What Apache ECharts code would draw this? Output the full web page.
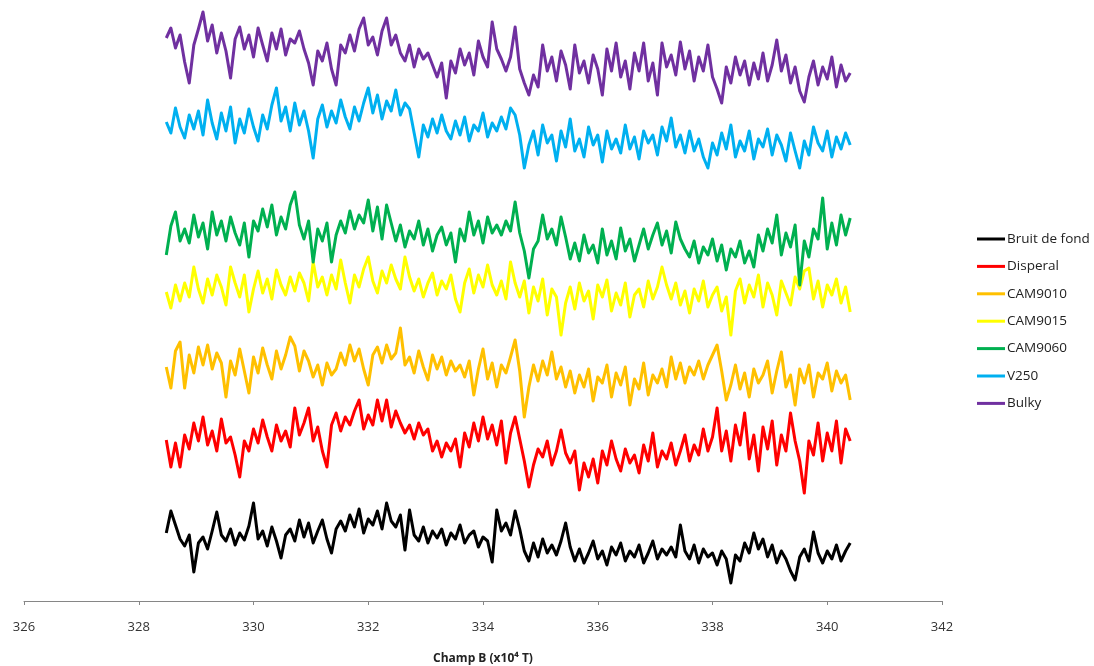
<!DOCTYPE html>
<html>
<head>
<meta charset="utf-8">
<script src="https://cdn.jsdelivr.net/npm/echarts@6/dist/echarts.min.js"></script>
<style>html,body{margin:0;padding:0;background:#fff;}#c{width:1094px;height:666px;}</style>
</head>
<body>
<div id="c"></div>
<script>
// Field sweep sampling grid (x10^4 T)
const X_START = 328.48;
const X_STEP = 0.08;
const X_TICKS = [326, 328, 330, 332, 334, 336, 338, 340, 342];
const SERIES_NAMES = ['Bruit de fond', 'Disperal', 'CAM9010', 'CAM9015', 'CAM9060', 'V250', 'Bulky'];

// Signal values (stacked offsets, arbitrary units)
const bruitDeFond = [68,90,76,62,55,66,29,58,64,52, 70,89,66,60,72,56,68,61,75,98, 62,70,55,74,60,43,66,72,60,81,
  64,78,58,70,81,62,48,72,80,70, 86,74,92,68,82,76,90,72,98,80, 74,86,51,91,66,60,74,58,70,63,
  72,56,68,62,76,58,66,70,54,64, 60,39,91,70,78,66,90,72,50,40, 58,44,62,48,56,46,60,78,54,40,
  52,38,48,60,42,50,36,54,46,58, 40,50,44,56,38,48,60,42,52,46, 54,44,76,50,42,56,38,52,44,48,
  36,50,42,18,46,40,58,48,68,52, 62,44,56,38,50,42,30,21,44,52, 40,69,48,38,50,42,56,40,50,58];
const disperal = [161,134,158,134,166,152,178,160,184,156, 170,150,182,158,164,146,124,160,150,172, 158,181,164,150,176,160,170,154,193,166,
  178,193,160,174,150,134,176,188,170,184, 176,190,201,172,186,176,201,180,201,174, 190,178,168,176,162,178,166,172,150,160,
  144,158,150,162,134,168,154,178,160,184, 162,176,156,180,138,168,184,162,140,114, 136,152,144,160,136,150,171,148,138,150,
  111,138,124,142,118,150,136,160,142,130, 152,138,146,128,156,140,168,134,150,142, 158,136,150,166,140,156,146,172,150,164,
  193,150,170,140,176,156,188,142,166,130, 174,152,180,136,166,150,188,160,140,108, 160,146,178,140,168,150,180,138,172,160];
const cam9010 = [234,213,250,259,213,246,228,254,236,256, 232,248,238,204,240,226,252,230,208,244, 228,253,236,222,250,232,246,264,255,230,
  250,240,224,236,216,238,226,232,248,236, 256,240,252,232,216,246,254,238,256,242, 248,273,236,244,228,250,234,221,246,232,
  244,226,240,230,236,224,240,206,232,252, 222,238,214,236,228,244,261,230,184,214, 236,220,240,226,249,222,234,214,230,208,
  226,214,232,200,224,218,236,204,228,216, 234,196,222,212,238,206,226,218,232,214, 244,222,238,218,234,226,240,222,236,246,
  256,230,201,216,236,212,228,204,232,218, 226,240,208,230,249,214,226,196,232,218, 236,204,228,222,238,210,230,218,226,201];
const cam9015 = [309,293,316,300,318,304,334,312,298,322, 306,326,314,296,334,318,304,326,289,312, 330,308,322,302,331,316,306,324,310,328,
  318,300,339,314,324,306,326,312,341,318, 298,326,314,332,344,320,308,330,318,336, 322,312,344,324,310,322,304,318,328,306,
  320,312,326,302,289,318,332,308,326,314, 336,316,306,320,302,339,318,304,320,288, 314,300,322,286,312,304,266,298,314,292,
  318,300,310,282,316,304,321,290,308,296, 318,284,306,312,294,320,302,314,334,316, 302,318,296,310,288,312,300,320,294,306,
  314,290,304,266,310,322,298,316,304,326, 294,318,306,286,320,308,296,324,312,330, 333,302,320,294,316,306,322,298,314,289];
const cam9060 = [346,375,389,360,372,358,386,364,378,352, 389,366,380,360,384,368,356,378,344,380, 370,392,374,396,366,384,372,396,409,376,
  362,380,339,372,360,378,339,366,380,368, 390,372,386,378,401,370,394,362,396,378, 360,376,354,370,362,380,356,372,350,366,
  374,356,368,339,372,360,389,366,380,358, 384,368,376,366,380,370,399,368,350,323, 352,360,386,362,372,356,384,364,342,358,
  340,366,348,356,338,372,346,360,342,373, 350,362,340,356,372,352,366,378,356,370, 348,379,362,352,344,360,338,354,346,362,
  340,356,331,352,344,360,338,350,334,366, 350,372,358,386,346,368,354,376,316,360, 344,372,362,403,352,378,356,386,366,383];
const v250 = [479,468,493,474,463,486,472,490,466,501, 478,462,488,470,494,458,482,468,492,474, 460,486,472,496,513,480,494,470,498,476,
  490,470,443,482,496,474,490,478,501,484, 472,494,480,498,513,488,506,482,500,490, 511,486,498,492,468,444,476,464,482,468,
  486,470,462,480,466,484,460,476,470,488, 464,478,470,484,472,493,486,466,433,456, 470,446,476,458,466,440,470,454,482,450,
  462,444,474,456,466,439,470,452,462,448, 476,452,464,442,470,458,466,446,474,460, 483,454,466,448,470,450,462,444,433,458,
  446,468,452,476,444,460,450,470,442,462, 454,472,446,466,456,440,468,450,433,460, 446,474,458,450,470,444,464,452,468,456];
const bulky = [563,573,553,566,539,518,556,572,589,560, 576,548,568,550,523,562,574,552,566,544, 573,556,540,568,552,572,546,562,558,570,
  552,538,516,550,540,558,532,516,556,548, 566,550,572,583,556,564,546,570,583,556, 566,548,540,556,534,552,542,548,536,524,
  538,503,540,528,552,536,548,526,560,544, 534,579,552,542,530,544,574,532,518,506, 526,514,556,530,544,520,550,536,512,556,
  528,540,518,546,532,506,552,530,558,524, 540,512,548,530,558,520,538,506,558,534, 546,526,559,532,550,520,544,530,556,524,
  512,498,534,518,544,526,540,516,538,522, 548,520,536,561,530,546,518,534,510,499, 524,540,516,534,522,544,514,536,520,528];

const SERIES_VALUES = [bruitDeFond, disperal, cam9010, cam9015, cam9060, v250, bulky];
const COLORS = ['#000000', '#FF0000', '#FFC000', '#FFFF00', '#00B050', '#00B0F0', '#7030A0'];

function pairs(vals) {
  return vals.map((v, i) => [+(X_START + X_STEP * i).toFixed(2), v]);
}

const chart = echarts.init(document.getElementById('c'), null, {renderer: 'canvas'});
chart.setOption({
  animation: false,
  backgroundColor: '#ffffff',
  textStyle: {fontFamily: 'Open Sans'},
  grid: {left: 24, right: 152, top: 0, bottom: 65, containLabel: false, outerBoundsMode: 'none'},
  legend: {
    orient: 'vertical',
    left: 977,
    top: 232,
    padding: 0,
    itemWidth: 28,
    itemHeight: 3,
    itemGap: 13.4,
    icon: 'rect',
    textStyle: {fontFamily: 'Open Sans', fontSize: 13.5, color: '#222', lineHeight: 14, padding: [0, 0, 0, -3]},
    data: SERIES_NAMES
  },
  xAxis: {
    type: 'value',
    min: X_TICKS[0],
    max: X_TICKS[X_TICKS.length - 1],
    interval: 2,
    name: 'Champ B (x10⁴ T)',
    nameLocation: 'middle',
    nameGap: 52,
    nameTextStyle: {fontFamily: 'Open Sans', fontSize: 12, fontWeight: 'bold', color: '#222'},
    axisLine: {show: true, lineStyle: {color: '#868686', width: 1}},
    axisTick: {show: true, length: 4, lineStyle: {color: '#868686'}},
    axisLabel: {fontFamily: 'Open Sans', fontSize: 13, color: '#333', margin: 20},
    splitLine: {show: false}
  },
  yAxis: {
    type: 'value',
    min: 0,
    max: 601,
    show: false
  },
  series: SERIES_NAMES.map((name, k) => ({
    name: name,
    type: 'line',
    data: pairs(SERIES_VALUES[k]),
    showSymbol: false,
    symbol: 'none',
    color: COLORS[k],
    lineStyle: {width: 3, color: COLORS[k], join: 'round'},
    itemStyle: {color: COLORS[k]}
  }))
});
</script>
</body>
</html>
